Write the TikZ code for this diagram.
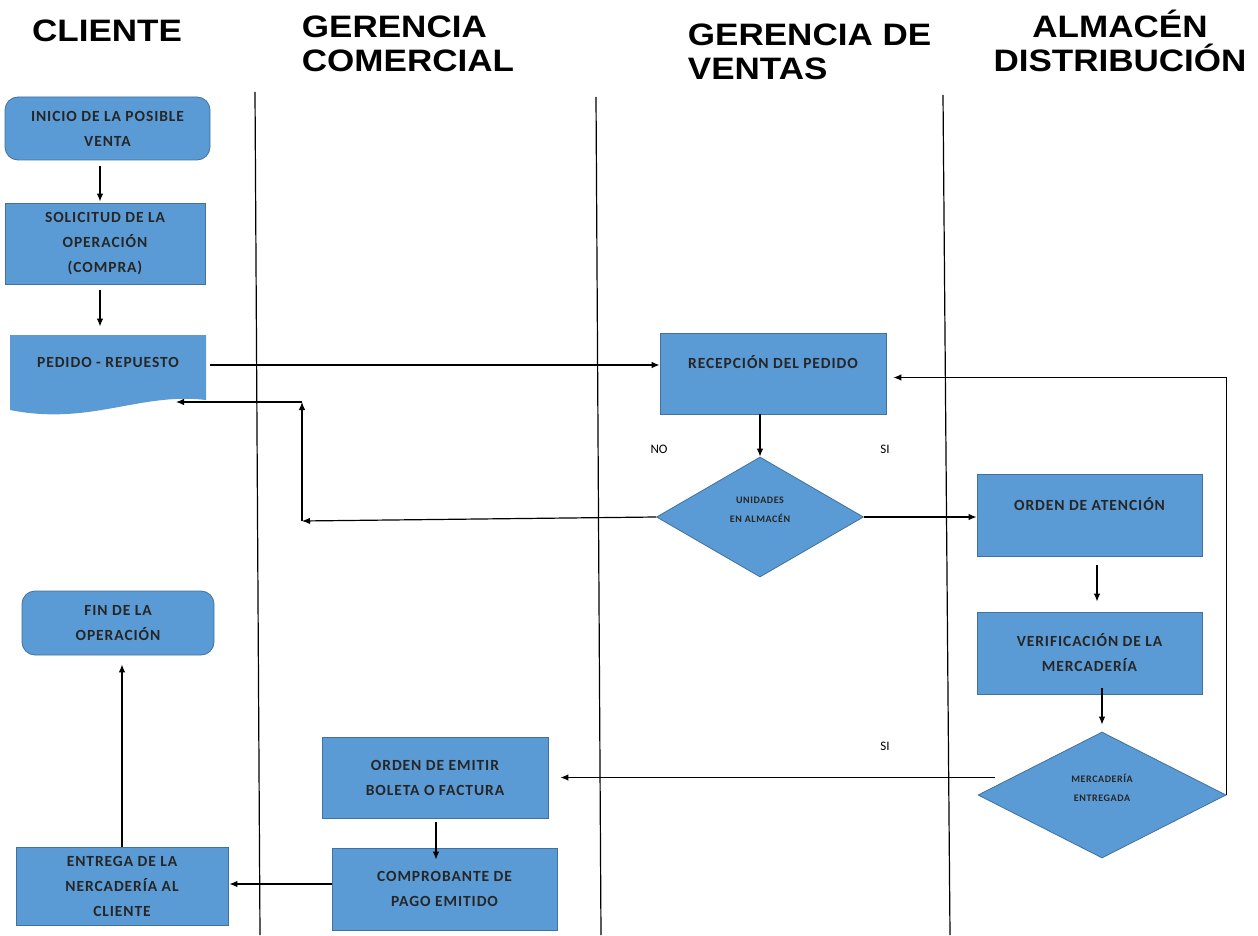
\documentclass[tikz,border=0pt]{standalone}
\usepackage{fontspec}
\setmainfont{Carlito}
\newfontfamily\cajafont{Carlito}[LetterSpace=6]
\newfontfamily\titlefont{Liberation Sans}[FakeStretch=1.13]
\usetikzlibrary{arrows.meta,shapes.geometric}

\definecolor{azulcaja}{HTML}{5B9BD5}
\definecolor{azulborde}{HTML}{41719C}

\tikzset{
  caja/.style={rectangle, draw=azulborde, fill=azulcaja, line width=0.8pt,
    inner sep=0pt, align=center, text=black!85,
    font=\cajafont\bfseries\fontsize{15.5}{25}\selectfont},
  terminal/.style={caja, rounded corners=13pt},
  decision/.style={caja, diamond, text depth=14pt, font=\cajafont\bfseries\fontsize{10}{19}\selectfont},
  titulo/.style={font=\titlefont\bfseries\fontsize{31}{34}\selectfont},
  etiqueta/.style={font=\fontsize{13}{14}\selectfont}
}

\begin{document}
\begin{tikzpicture}[x=1pt,y=-1pt,>={Latex[length=8pt,width=6.5pt]},line width=1.2pt]
  \useasboundingbox (0,0) rectangle (1258,936);

  % carriles
  \node[titulo] (tcliente) at (107,31) {CLIENTE};
  \node[titulo, anchor=west, align=left] (tcomercial) at (298,44) {GERENCIA\\COMERCIAL};
  \node[titulo, anchor=west, align=left] (tventas) at (684,52) {GERENCIA DE\\VENTAS};
  \node[titulo, align=center] (talmacen) at (1120,41) {ALMAC\'EN\\DISTRIBUCI\'ON};
  \draw (255,92) -- (260,935);
  \draw (596,97) -- (601,935);
  \draw (943,95) -- (950,935);

  % cliente
  \node[terminal, minimum width=205pt, minimum height=63pt] (inicio) at (107.5,128.5)
    {INICIO DE LA POSIBLE\\VENTA};
  \node[caja, minimum width=200pt, minimum height=81pt] (solicitud) at (105,243.5)
    {SOLICITUD DE LA\\OPERACI\'ON\\(COMPRA)};
  % documento con borde ondulado
  \fill[azulcaja] (10,335) -- (206,335) -- (206,400)
    .. controls (140,392) and (90,426) .. (10,410) -- cycle;
  \node[caja, draw=none, fill=none, minimum width=196pt, minimum height=80pt] (pedido) at (108,375)
    {\raisebox{8pt}[0pt][0pt]{PEDIDO - REPUESTO}};
  \node[terminal, minimum width=192pt, minimum height=64pt] (fin) at (118,623)
    {FIN DE LA\\OPERACI\'ON};
  \node[caja, minimum width=212pt, minimum height=78pt] (entrega) at (122,886)
    {ENTREGA DE LA\\NERCADER\'IA AL\\CLIENTE};

  % gerencia comercial
  \node[caja, minimum width=226pt, minimum height=81pt] (emitir) at (435,777.5)
    {ORDEN DE EMITIR\\BOLETA O FACTURA};
  \node[caja, minimum width=225pt, minimum height=82pt] (comprobante) at (444.5,889)
    {COMPROBANTE DE\\PAGO EMITIDO};

  % gerencia de ventas
  \node[caja, minimum width=226pt, minimum height=81pt] (recepcion) at (773,373.5)
    {\raisebox{5pt}[0pt][0pt]{RECEPCI\'ON DEL PEDIDO}};
  \node[decision, minimum width=207pt, minimum height=120pt] (unidades) at (760,517)
    {UNIDADES\\EN ALMAC\'EN};
  \node[etiqueta] (no) at (659,449) {NO};
  \node[etiqueta] (si1) at (885,449) {SI};
  \node[etiqueta] (si2) at (885,746) {SI};

  % almacen
  \node[caja, minimum width=225pt, minimum height=82pt] (atencion) at (1089.5,515)
    {\raisebox{5pt}[0pt][0pt]{ORDEN DE ATENCI\'ON}};
  \node[caja, minimum width=225pt, minimum height=82pt] (verificacion) at (1089.5,653)
    {VERIFICACI\'ON DE LA\\MERCADER\'IA};
  \node[decision, minimum width=248pt, minimum height=126pt] (entregada) at (1102,795)
    {MERCADER\'IA\\ENTREGADA};

  \coordinate (no1) at (302,521);
  \coordinate (no2) at (302,402);
  \coordinate (pedidoborde) at (176,402);

  \begin{scope}[->]
    \draw[shorten <=6pt, shorten >=1pt] (inicio.south -| 100,0) -- (solicitud.north -| 100,0);
    \draw[shorten <=6pt, shorten >=8pt] (solicitud.south -| 100,0) -- (pedido.north -| 100,0);
    \draw[shorten <=4pt] ([yshift=10pt]pedido.east) -- ([yshift=10pt]pedido.east -| recepcion.west);
    \draw (recepcion.south -| unidades.north) -- (unidades.north);
    \draw (unidades.west) -- (no1);
    \draw (no1) -- (no2);
    \draw (no2) -- (pedidoborde);
    \draw (unidades.east) -- (unidades.east -| atencion.west);
    \draw[shorten <=9pt, shorten >=10pt] (atencion.south -| 1097,0) -- (verificacion.north -| 1097,0);
    \draw[shorten <=-6pt, shorten >=7pt] (verificacion.south -| entregada.north) -- (entregada.north);
    \draw[shorten >=7pt] (entregada.east) |- ([yshift=-4pt]recepcion.east);
    \draw[shorten >=12pt] ([xshift=17pt]entregada.west |- emitir.east) -- (emitir.east);
    \draw[shorten <=4pt, shorten >=-12pt] (emitir.south -| 436,0) -- (comprobante.north -| 436,0);
    \draw[shorten >=1pt] ([yshift=5pt]comprobante.west) -- ([yshift=5pt]comprobante.west -| entrega.east);
    \draw[shorten >=9pt] (entrega.north) -- (fin.south -| entrega.north);
  \end{scope}
\end{tikzpicture}
\end{document}
